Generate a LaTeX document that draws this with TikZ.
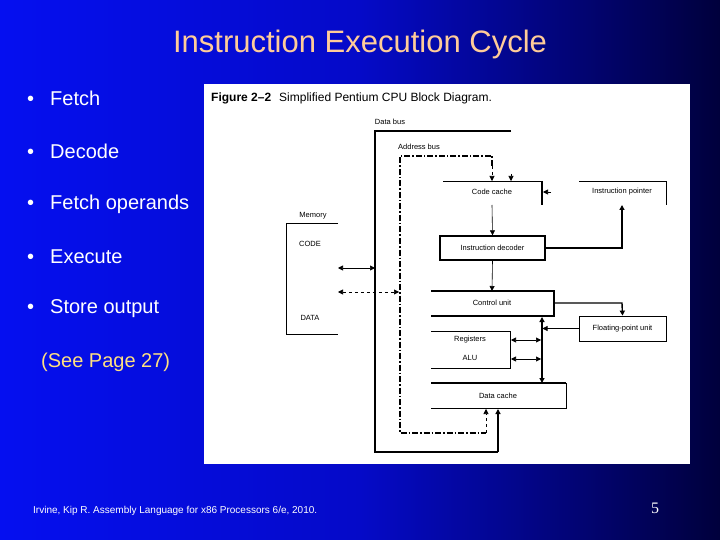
\documentclass[tikz,border=0pt]{standalone}
\usepackage{fontspec}
\setmainfont{Liberation Sans}
\newfontfamily\serifx{Liberation Serif}
\usetikzlibrary{arrows.meta}
\definecolor{titlec}{HTML}{FFCC99}
\definecolor{seec}{HTML}{FFE080}
\tikzset{
 lbl/.style={font=\fontsize{7.5}{8}\selectfont, inner sep=0pt},
 bul/.style={font=\fontsize{20}{22}\selectfont, text=white, anchor=west, inner sep=0pt},
 ln/.style={line width=0.6pt},
 thk/.style={line width=1.4pt},
 dd/.style={line width=1.4pt, dash pattern=on 6pt off 2pt on 1.5pt off 2pt},
 ar/.style={-{Triangle[length=5pt,width=5pt]}},
 dar/.style={{Triangle[length=5pt,width=5pt]}-{Triangle[length=5pt,width=5pt]}},
}
\begin{document}
\begin{tikzpicture}[x=1pt,y=-1pt]
\useasboundingbox (0,0) rectangle (720,540);
\shade[left color={rgb,255:red,5;green,15;blue,240}, right color={rgb,255:red,0;green,0;blue,60}, middle color={rgb,255:red,5;green,10;blue,200}] (0,0) rectangle (720,540);
\node[font=\fontsize{31}{33}\selectfont, text=titlec] (title) at (360,44) {Instruction Execution Cycle};
\foreach \t/\y/\n in {Fetch/98/b1, Decode/151/b2, Fetch operands/204/b3, Execute/257/b4, Store output/309/b5}
  \node[bul] (\n) at (27,\y) {\textbullet\hspace{16pt}\t};
\node[font=\fontsize{20}{22}\selectfont, text=seec, anchor=west, inner sep=0pt] (see) at (41,362) {(See Page 27)};
\node[font=\fontsize{10}{11}\selectfont, text=white, anchor=west, inner sep=0pt] (foot) at (33,511) {Irvine, Kip R. Assembly Language for x86 Processors 6/e, 2010.};
\node[font=\serifx\fontsize{16}{18}\selectfont, text=white] (pg) at (655,508) {5};
% figure
\fill[white] (204,84) rectangle (690,464);
\node[anchor=west, font=\fontsize{12}{13}\selectfont, inner sep=0pt] (cap) at (211,98) {\textbf{Figure 2--2}\hspace{8pt}Simplified Pentium CPU Block Diagram.};
% labels
\node[lbl] (dbl) at (390,122) {Data bus};
\node[lbl] (abl) at (419,147) {Address bus};
\node[lbl] (cc) at (492,192) {Code cache};
\node[lbl] (ip) at (622,192) {Instruction pointer};
\node[draw, thk, minimum width=105pt, minimum height=24pt, inner sep=0pt, font=\fontsize{7.5}{8}\selectfont] (dec) at (492.5,248) {Instruction decoder};
\node[lbl] (cu) at (492,303) {Control unit};
\node[draw, line width=0.8pt, minimum width=87pt, minimum height=25pt, inner sep=0pt, font=\fontsize{7.5}{8}\selectfont] (fpu) at (622.5,328.5) {Floating-point unit};
\node[lbl] (reg) at (470,340) {Registers};
\node[lbl] (alu) at (470,358) {ALU};
\node[lbl] (dc) at (498,396) {Data cache};
\node[lbl] (mem) at (313,216) {Memory};
\node[lbl] (code) at (310,244) {CODE};
\node[lbl] (data) at (310,318) {DATA};
% coordinates
\coordinate (dbs) at (375,131); \coordinate (dbe) at (511,131);
\coordinate (abs) at (400,156);
% code cache and instruction pointer
\draw[ln] (443,181) -- (542,181);
\draw[thk] (542,181) -- (542,205);
\draw[ln] (579,181) -- (666,181) -- (666,205);
\draw[ln,ar] (551,192) -- (543,192);
% memory
\draw[ln] (338,223) -- (286,223) -- (286,334) -- (338,334);
% control unit
\draw[thk] (431,291) -- (554,291) -- (554,316) -- (431,316);
% registers/alu
\draw[ln] (431,331) -- (510,331) -- (510,368) -- (431,368);
% data cache
\draw[thk] (431,383) -- (566,383);
\draw[ln] (566,383) -- (566,408) -- (431,408);
% buses
\draw[thk] (dbe) -- (dbs) -- (375,452) -- (498,452);
\draw[thk,ar] (498,452) -- (498,409);
\draw[dd] (492,166) -- (492,156) -- (abs) -- (400,433) -- (486,433);
\draw[ln,dashed,ar] (486,433) -- (486,409);
\draw[ln,dashed,ar] (492,166) -- (492,181);
\draw[ln,ar] (511,174) -- (511,181);
% flows
\draw[ln,ar] (492,205) -- (dec.north);
\draw[ln,ar] (dec.south) -- (492,291);
\draw[thk,ar] (dec.east) -- (622,248) -- (622,205);
\draw[thk,ar] (554,303) -- (622,303) -- (fpu.north);
\draw[ln,ar] (fpu.west) -- (542.5,328.5);
\draw[thk,dar] (542,317) -- (542,383);
\draw[ln,dar] (511,340) -- (541,340);
\draw[ln,dar] (511,359) -- (541,359);
\draw[ln,dar] (338,268) -- (375,268);
\draw[ln,dashed,dar] (338,292) -- (399,292);
\end{tikzpicture}
\end{document}
